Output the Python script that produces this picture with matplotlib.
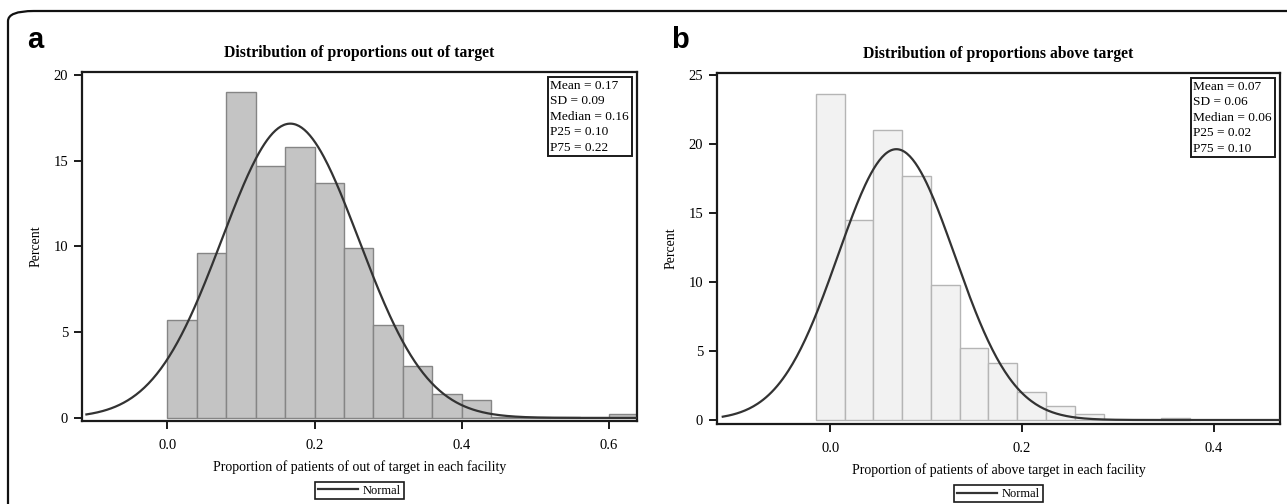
import numpy as np
import matplotlib.pyplot as plt
from matplotlib.patches import FancyBboxPatch
from matplotlib.lines import Line2D
from matplotlib.offsetbox import AnchoredText


# --------------------------------------------------
# Data
# --------------------------------------------------

# panel a: out of target, bin width 0.04 starting at 0.0
a_bin_left = [0.00, 0.04, 0.08, 0.12, 0.16, 0.20, 0.24, 0.28, 0.32, 0.36,
              0.40, 0.44, 0.48, 0.52, 0.56, 0.60]
a_percent = [5.7, 9.6, 19.0, 14.7, 15.8, 13.7, 9.9, 5.4, 3.0, 1.4,
             1.05, 0.06, 0.06, 0.06, 0.0, 0.25]
a_width = 0.04
a_mean, a_sd = 0.167, 0.093
a_stats = ["Mean = 0.17", "SD = 0.09", "Median = 0.16", "P25 = 0.10", "P75 = 0.22"]
a_xticks = [0.0, 0.2, 0.4, 0.6]
a_yticks = [0, 5, 10, 15, 20]

# panel b: above target, bin width 0.03 centred on multiples of 0.03
b_bin_left = [-0.015, 0.015, 0.045, 0.075, 0.105, 0.135, 0.165, 0.195,
              0.225, 0.255, 0.285, 0.315, 0.345]
b_percent = [23.6, 14.5, 21.0, 17.7, 9.8, 5.2, 4.15, 2.0, 1.05, 0.43,
             0.0, 0.0, 0.17]
b_width = 0.03
b_mean, b_sd = 0.069, 0.061
b_stats = ["Mean = 0.07", "SD = 0.06", "Median = 0.06", "P25 = 0.02", "P75 = 0.10"]
b_xticks = [0.0, 0.2, 0.4]
b_yticks = [0, 5, 10, 15, 20, 25]


# --------------------------------------------------
# Style
# --------------------------------------------------

plt.rcParams["font.family"] = ["Liberation Serif", "DejaVu Serif"]
plt.rcParams["axes.linewidth"] = 1.6
plt.rcParams["axes.edgecolor"] = "#1a1a1a"

W, H = 1287, 504
fig = plt.figure(figsize=(W / 100, H / 100), dpi=100)


def px_box(l, r, t, b):
    return [l / W, 1 - b / H, (r - l) / W, (b - t) / H]


def normal_percent(x, mu, sd, width):
    return 100 * width * np.exp(-0.5 * ((x - mu) / sd) ** 2) / (sd * np.sqrt(2 * np.pi))


def panel(rect, lefts, heights, width, mu, sd, stats, xticks, yticks,
          xlim, ylim, fc, ec, title, xlabel):
    ax = fig.add_axes(rect)
    ax.bar(lefts, heights, width=width, align="edge", color=fc,
           edgecolor=ec, linewidth=1.0, zorder=2)
    xs = np.linspace(xlim[0] + 0.006, xlim[1], 400)
    ax.plot(xs, normal_percent(xs, mu, sd, width), color="#333333",
            lw=1.6, zorder=3)
    ax.set_xlim(*xlim)
    ax.set_ylim(*ylim)
    ax.set_xticks(xticks)
    ax.set_xticklabels([f"{t:.1f}" for t in xticks])
    ax.set_yticks(yticks)
    ax.tick_params(direction="out", length=6, width=1.4, labelsize=10.5,
                   color="#1a1a1a", pad=4)
    ax.tick_params(axis="x", pad=7)
    ax.set_title(title, fontsize=11.3, fontweight="bold", pad=11)
    ax.set_xlabel(xlabel, fontsize=10, labelpad=6)
    ax.set_ylabel("Percent", fontsize=10, labelpad=7.5)

    at = AnchoredText("\n".join(stats), loc="upper right", frameon=True,
                      pad=0.2, borderpad=0.4,
                      prop=dict(size=9.6, linespacing=1.38))
    at.patch.set_boxstyle("square,pad=0")
    at.patch.set_linewidth(1.4)
    at.patch.set_edgecolor("#1a1a1a")
    ax.add_artist(at)

    handle = Line2D([], [], color="#333333", lw=1.6)
    leg = ax.legend([handle], ["Normal"], loc="upper center",
                    bbox_to_anchor=(0.5, -0.175), fontsize=9,
                    fancybox=False, framealpha=1, edgecolor="#1a1a1a",
                    handlelength=3.2, handletextpad=0.4, borderpad=0.2,
                    borderaxespad=0)
    leg.get_frame().set_linewidth(1.2)
    return ax


# --------------------------------------------------
# Panels
# --------------------------------------------------

panel(px_box(82, 637, 72, 421), a_bin_left, a_percent, a_width, a_mean, a_sd,
      a_stats, a_xticks, a_yticks, (-0.116, 0.638), (-0.18, 20.17),
      "#c4c4c4", "#858585",
      "Distribution of proportions out of target",
      "Proportion of patients of out of target in each facility")

panel(px_box(717, 1280, 73, 424), b_bin_left, b_percent, b_width, b_mean, b_sd,
      b_stats, b_xticks, b_yticks, (-0.118, 0.469), (-0.29, 25.14),
      "#f2f2f2", "#b5b5b5",
      "Distribution of proportions above target",
      "Proportion of patients of above target in each facility")


# --------------------------------------------------
# Panel letters and outer frame
# --------------------------------------------------

fig.text(27 / W, 1 - 48 / H, "a", fontsize=21, fontweight="bold",
         family="Liberation Sans", ha="left", va="baseline")
fig.text(671 / W, 1 - 48 / H, "b", fontsize=21, fontweight="bold",
         family="Liberation Sans", ha="left", va="baseline")

frame = FancyBboxPatch((8 / W, -0.2), 1.2, 1.2 - 11 / H,
                       boxstyle="round,pad=0,rounding_size=0.02",
                       transform=fig.transFigure, fill=False,
                       edgecolor="#111111", linewidth=1.6)
fig.patches.append(frame)

fig.savefig("out.png", dpi=100)
plt.close(fig)
